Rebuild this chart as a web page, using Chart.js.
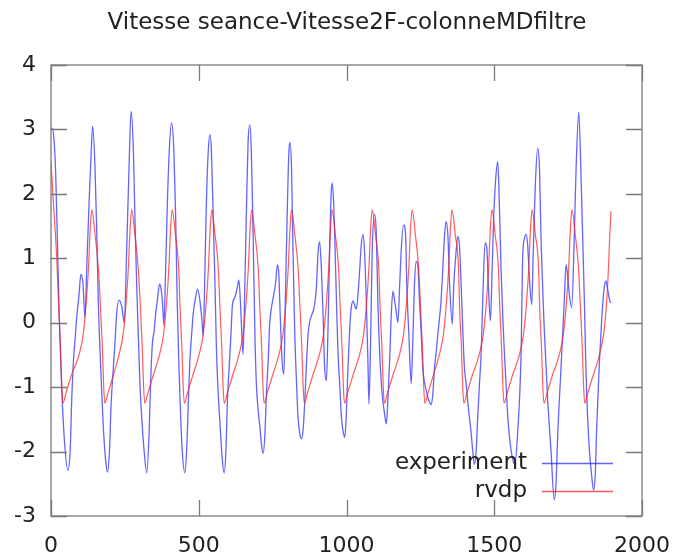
<!DOCTYPE html>
<html>
<head>
<meta charset="utf-8">
<script src="https://cdn.jsdelivr.net/npm/chart.js@4.4.1/dist/chart.umd.min.js"></script>
<style>
  html, body { margin: 0; padding: 0; background: #fff; }
</style>
</head>
<body>
<canvas id="chart" width="674" height="557"></canvas>
<script>
const chartTitle = "Vitesse seance-Vitesse2F-colonneMDfiltre";
const seriesNames = ["experiment", "rvdp"];
const xTicks = [0, 500, 1000, 1500, 2000];
const yTicks = [-3, -2, -1, 0, 1, 2, 3, 4];

// [x, vitesse]
const experiment = [
  [0,3.0],[4,3.02],[10,2.85],[16,2.3],[22,1.2],[28,0.1],[36,-1.0],[45,-1.8],[57,-2.29],[65,-1.98],
  [70,-1.21],[76,-0.59],[82,-0.23],[87,0.08],[95,0.44],[101,0.75],[108,0.62],[115,0.08],[121,0.85],[129,1.88],
  [136,2.65],[141,3.05],[149,2.4],[155,1.37],[160,0.34],[166,-0.44],[172,-1.11],[177,-1.62],[185,-2.14],[191,-2.32],
  [198,-1.98],[203,-1.31],[211,-0.69],[217,-0.28],[222,0.13],[230,0.35],[239,0.26],[248,0.0],[256,1.11],[264,2.4],
  [271,3.28],[279,2.65],[284,1.62],[290,0.59],[296,-0.28],[301,-0.95],[307,-1.47],[315,-1.98],[324,-2.33],[332,-1.72],
  [337,-0.95],[343,-0.33],[349,-0.13],[354,0.13],[361,0.39],[367,0.6],[372,0.54],[377,0.34],[382,-0.04],[388,0.85],
  [394,1.88],[400,2.65],[408,3.1],[416,2.65],[422,1.62],[427,0.34],[433,-0.69],[439,-1.47],[444,-1.98],[453,-2.33],
  [459,-1.98],[465,-1.21],[470,-0.59],[476,-0.18],[481,0.13],[489,0.39],[496,0.52],[504,0.34],[510,0.08],[515,-0.21],
  [521,0.85],[526,1.88],[532,2.65],[538,2.92],[543,2.65],[549,1.62],[555,0.59],[560,-0.44],[566,-1.11],[574,-1.72],
  [579,-2.09],[586,-2.33],[592,-1.98],[597,-1.21],[603,-0.69],[609,-0.18],[614,0.28],[622,0.39],[630,0.54],[636,0.66],
  [642,0.23],[650,-0.49],[656,0.59],[662,1.88],[667,2.81],[673,3.07],[678,2.65],[684,1.37],[690,-0.18],[695,-0.95],
  [701,-1.36],[707,-1.62],[712,-1.88],[718,-2.03],[724,-1.72],[729,-1.11],[735,-0.59],[740,-0.02],[746,0.23],[752,0.39],
  [760,0.62],[766,0.9],[771,0.75],[776,0.08],[782,-0.59],[788,-0.8],[793,0.34],[799,1.62],[805,2.65],[809,2.8],
  [814,2.4],[819,1.11],[825,-0.18],[831,-0.95],[836,-1.47],[842,-1.72],[847,-1.8],[853,-1.67],[859,-1.21],[864,-0.69],
  [870,-0.18],[876,0.03],[883,0.13],[890,0.23],[898,0.54],[904,1.11],[909,1.26],[915,0.85],[921,0.08],[926,-0.69],
  [932,-0.9],[937,-0.18],[943,1.11],[948,2.0],[952,2.17],[957,1.8],[960,1.37],[966,0.34],[971,-0.44],[977,-0.95],
  [983,-1.47],[988,-1.67],[994,-1.78],[999,-1.47],[1005,-0.69],[1011,-0.08],[1016,0.23],[1022,0.34],[1028,0.26],[1033,0.21],
  [1039,0.44],[1045,0.85],[1050,1.21],[1056,1.37],[1061,1.11],[1067,0.34],[1073,-0.69],[1076,-1.26],[1082,-0.18],[1087,1.11],
  [1095,1.68],[1101,1.37],[1106,0.34],[1112,-0.44],[1118,-0.95],[1123,-1.21],[1129,-1.42],[1135,-1.57],[1140,-1.21],[1146,-0.59],
  [1151,0.08],[1157,0.49],[1163,0.34],[1168,0.18],[1174,0.0],[1180,0.59],[1185,1.11],[1193,1.52],[1200,1.37],[1204,0.59],
  [1211,-0.18],[1219,-0.95],[1225,-0.18],[1230,0.59],[1236,0.95],[1242,0.85],[1247,0.34],[1253,-0.18],[1258,-0.69],[1270,-1.05],
  [1278,-1.2],[1287,-1.27],[1292,-1.11],[1298,-0.69],[1304,-0.44],[1309,-0.18],[1315,0.08],[1320,0.34],[1326,0.85],[1332,1.37],
  [1337,1.57],[1343,1.37],[1349,0.59],[1358,-0.02],[1363,0.59],[1371,1.11],[1377,1.34],[1382,1.21],[1388,0.59],[1394,-0.18],
  [1399,-0.69],[1405,-0.95],[1410,-1.21],[1416,-1.47],[1422,-1.72],[1427,-1.98],[1433,-2.2],[1439,-1.98],[1444,-1.47],[1450,-0.95],
  [1456,-0.44],[1461,0.34],[1469,1.24],[1475,1.16],[1480,0.59],[1487,0.03],[1493,0.85],[1498,1.62],[1505,2.24],[1512,2.5],
  [1517,1.88],[1523,0.85],[1529,0.08],[1534,-0.44],[1540,-0.95],[1546,-1.47],[1557,-1.98],[1570,-2.2],[1579,-1.72],[1591,-0.44],
  [1596,1.0],[1602,1.3],[1608,1.37],[1613,1.21],[1619,0.7],[1627,0.28],[1632,1.11],[1639,2.14],[1647,2.71],[1653,2.4],
  [1658,1.37],[1670,-0.18],[1681,-1.21],[1692,-1.98],[1703,-2.75],[1709,-2.5],[1715,-1.72],[1726,-0.69],[1737,0.34],[1743,0.9],
  [1748,0.75],[1754,0.44],[1762,0.23],[1771,1.37],[1777,2.4],[1786,3.27],[1793,2.4],[1799,1.37],[1805,0.34],[1810,-0.69],
  [1816,-1.47],[1822,-1.98],[1829,-2.34],[1836,-2.6],[1842,-2.34],[1846,-1.72],[1855,-0.69],[1864,0.08],[1872,0.54],[1878,0.65],
  [1883,0.54],[1891,0.34],[1895,0.31]
];

const rvdp = [
  [0,2.5],[8,1.88],[20,0.95],[25,0.34],[31,-0.28],[36,-0.9],[40,-1.25],
  [52,-1.07],[70,-0.8],[95,-0.5],[109,-0.18],[119,0.3],[127,0.86],[132,1.4],[138,1.75],[149,1.37],[160,0.86],[168,0.2],[174,-0.4],[178,-0.95],[182,-1.25],
  [194,-1.07],[212,-0.8],[230,-0.5],[244,-0.18],[254,0.3],[262,0.86],[267,1.4],[273,1.75],[284,1.37],[295,0.86],[303,0.2],[309,-0.4],[313,-0.95],[317,-1.25],
  [329,-1.07],[347,-0.8],[367,-0.5],[381,-0.18],[391,0.3],[399,0.86],[404,1.4],[410,1.75],[421,1.37],[432,0.86],[437,0.2],[443,-0.4],[447,-0.95],[451,-1.25],
  [463,-1.07],[481,-0.8],[501,-0.5],[515,-0.18],[525,0.3],[533,0.86],[538,1.4],[544,1.75],[555,1.37],[566,0.86],[572,0.2],[578,-0.4],[582,-0.95],[586,-1.25],
  [598,-1.07],[616,-0.8],[636,-0.5],[650,-0.18],[660,0.3],[668,0.86],[673,1.4],[679,1.75],[690,1.37],[701,0.86],[707,0.2],[713,-0.4],[717,-0.95],[721,-1.25],
  [733,-1.07],[751,-0.8],[771,-0.5],[785,-0.18],[795,0.3],[803,0.86],[808,1.4],[814,1.75],[825,1.37],[836,0.86],[843,0.2],[849,-0.4],[853,-0.95],[857,-1.25],
  [869,-1.07],[887,-0.8],[908,-0.5],[922,-0.18],[932,0.3],[940,0.86],[945,1.4],[951,1.75],[962,1.37],[973,0.86],[979,0.2],[985,-0.4],[989,-0.95],[993,-1.25],
  [1005,-1.07],[1023,-0.8],[1044,-0.5],[1058,-0.18],[1068,0.3],[1076,0.86],[1081,1.4],[1087,1.75],[1098,1.37],[1109,0.86],[1114,0.2],[1120,-0.4],[1124,-0.95],[1128,-1.25],
  [1140,-1.07],[1158,-0.8],[1179,-0.5],[1193,-0.18],[1203,0.3],[1211,0.86],[1216,1.4],[1222,1.75],[1233,1.37],[1244,0.86],[1251,0.2],[1257,-0.4],[1261,-0.95],[1265,-1.25],
  [1277,-1.07],[1295,-0.8],[1314,-0.5],[1328,-0.18],[1338,0.3],[1346,0.86],[1351,1.4],[1357,1.75],[1368,1.37],[1379,0.86],[1383,0.2],[1389,-0.4],[1393,-0.95],[1397,-1.25],
  [1409,-1.07],[1427,-0.8],[1449,-0.5],[1463,-0.18],[1473,0.3],[1481,0.86],[1486,1.4],[1492,1.75],[1503,1.37],[1514,0.86],[1519,0.2],[1525,-0.4],[1529,-0.95],[1533,-1.25],
  [1545,-1.07],[1563,-0.8],[1585,-0.5],[1599,-0.18],[1609,0.3],[1617,0.86],[1622,1.4],[1628,1.75],[1639,1.37],[1650,0.86],[1654,0.2],[1660,-0.4],[1664,-0.95],[1668,-1.25],
  [1680,-1.07],[1698,-0.8],[1720,-0.5],[1734,-0.18],[1744,0.3],[1752,0.86],[1757,1.4],[1763,1.75],[1774,1.37],[1785,0.86],[1792,0.2],[1798,-0.4],[1802,-0.95],[1806,-1.25],
  [1818,-1.07],[1836,-0.8],[1856,-0.5],[1870,-0.18],[1880,0.3],[1886,0.8],[1891,1.37],[1895,1.73]
];

const blueLine = "rgba(40, 40, 255, 0.72)";
const redLine = "rgba(255, 30, 30, 0.72)";
const fontFamily = "'DejaVu Sans', Verdana, sans-serif";

// gnuplot style frame: border + inward ticks on all four sides, title, key
const gnuplotFrame = {
  id: "gnuplotFrame",
  afterDraw(chart) {
    const ctx = chart.ctx;
    const a = chart.chartArea;
    const sx = chart.scales.x;
    const sy = chart.scales.y;
    const tick = 16;
    ctx.save();
    ctx.strokeStyle = "#7a7a7a";
    ctx.lineWidth = 1.3;
    ctx.strokeRect(a.left, a.top, a.right - a.left, a.bottom - a.top);
    ctx.beginPath();
    xTicks.forEach((v) => {
      const px = Math.round(sx.getPixelForValue(v)) + 0.5;
      ctx.moveTo(px, a.bottom);
      ctx.lineTo(px, a.bottom - tick);
      ctx.moveTo(px, a.top);
      ctx.lineTo(px, a.top + tick);
    });
    yTicks.forEach((v) => {
      const py = Math.round(sy.getPixelForValue(v)) + 0.5;
      ctx.moveTo(a.left, py);
      ctx.lineTo(a.left + tick, py);
      ctx.moveTo(a.right, py);
      ctx.lineTo(a.right - tick, py);
    });
    ctx.stroke();

    // title
    ctx.fillStyle = "#222";
    ctx.font = "23px " + fontFamily;
    ctx.textAlign = "center";
    ctx.textBaseline = "middle";
    ctx.fillText(chartTitle, 347, 23);

    // key
    ctx.font = "23px " + fontFamily;
    ctx.textAlign = "right";
    const keyRows = [
      { name: seriesNames[0], color: blueLine, y: 463 },
      { name: seriesNames[1], color: redLine, y: 491 },
    ];
    keyRows.forEach((r) => {
      ctx.fillStyle = "#222";
      ctx.fillText(r.name, 527, r.y);
      ctx.strokeStyle = r.color;
      ctx.lineWidth = 1.3;
      ctx.beginPath();
      ctx.moveTo(542, r.y + 0.5);
      ctx.lineTo(613, r.y + 0.5);
      ctx.stroke();
    });
    ctx.restore();
  },
};

const toPoints = (arr) => arr.map((p) => ({ x: p[0], y: p[1] }));

new Chart(document.getElementById("chart").getContext("2d"), {
  type: "line",
  data: {
    datasets: [
      {
        label: seriesNames[1],
        data: toPoints(rvdp),
        borderColor: redLine,
        borderWidth: 1.2,
        pointRadius: 0,
        cubicInterpolationMode: "monotone",
        order: 0,
      },
      {
        label: seriesNames[0],
        data: toPoints(experiment),
        borderColor: blueLine,
        borderWidth: 1.3,
        pointRadius: 0,
        cubicInterpolationMode: "monotone",
        order: 1,
      },
    ],
  },
  options: {
    responsive: false,
    animation: false,
    devicePixelRatio: 1,
    layout: { padding: { top: 65, right: 32, left: 0, bottom: 0 } },
    plugins: {
      legend: { display: false },
      title: { display: false },
      tooltip: { enabled: false },
    },
    scales: {
      x: {
        type: "linear",
        min: 0,
        max: 2000,
        afterBuildTicks: (scale) => {
          scale.ticks = xTicks.map((v) => ({ value: v }));
        },
        afterFit: (scale) => {
          scale.height = 41;
          scale.paddingLeft = 0;
          scale.paddingRight = 0;
        },
        grid: { display: false, drawTicks: false },
        border: { display: false },
        ticks: {
          color: "#222",
          font: { family: fontFamily, size: 22 },
          padding: 17,
          maxRotation: 0,
          callback: (v) => String(v),
        },
      },
      y: {
        type: "linear",
        min: -3,
        max: 4,
        afterBuildTicks: (scale) => {
          scale.ticks = yTicks.map((v) => ({ value: v }));
        },
        afterFit: (scale) => {
          scale.width = 51;
          scale.paddingTop = 0;
          scale.paddingBottom = 0;
        },
        grid: { display: false, drawTicks: false },
        border: { display: false },
        ticks: {
          color: "#222",
          font: { family: fontFamily, size: 22 },
          padding: 15,
          callback: (v) => String(v),
        },
      },
    },
  },
  plugins: [gnuplotFrame],
});
</script>
</body>
</html>
